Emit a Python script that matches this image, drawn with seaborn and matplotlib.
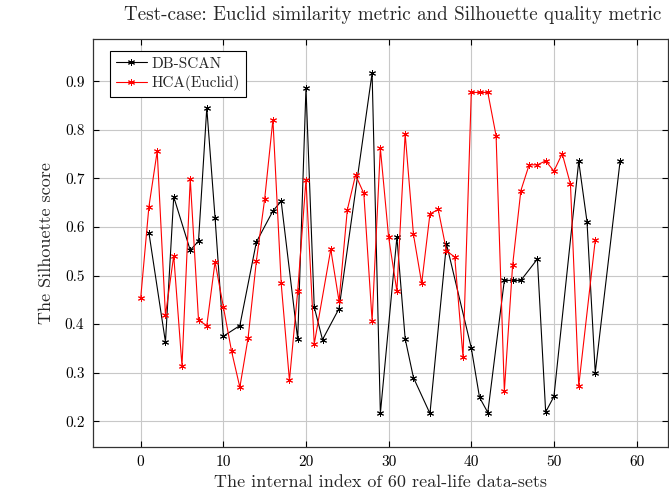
import matplotlib
matplotlib.use("Agg")
import matplotlib.pyplot as plt
import seaborn as sns
import pandas as pd

# DB-SCAN series
db_x = [1, 3, 4, 6, 7, 8, 9, 10, 12, 14, 16, 17, 19, 20, 21, 22, 24, 28, 29, 31,
        32, 33, 35, 37, 40, 41, 42, 44, 45, 46, 48, 49, 50, 53, 54, 55, 58]
db_y = [0.588, 0.363, 0.662, 0.552, 0.571, 0.845, 0.619, 0.375, 0.397, 0.569,
        0.633, 0.653, 0.369, 0.886, 0.435, 0.368, 0.432, 0.917, 0.216, 0.579,
        0.370, 0.290, 0.216, 0.565, 0.351, 0.249, 0.218, 0.490, 0.490, 0.490,
        0.534, 0.219, 0.251, 0.735, 0.611, 0.300, 0.735]

# HCA(Euclid) series
hca_x = [0, 1, 2, 3, 4, 5, 6, 7, 8, 9, 10, 11, 12, 13, 14, 15, 16, 17, 18, 19,
         20, 21, 23, 24, 25, 26, 27, 28, 29, 30, 31, 32, 33, 34, 35, 36, 37, 38,
         39, 40, 41, 42, 43, 44, 45, 46, 47, 48, 49, 50, 51, 52, 53, 55]
hca_y = [0.453, 0.642, 0.756, 0.418, 0.541, 0.314, 0.699, 0.408, 0.397, 0.528,
         0.436, 0.344, 0.270, 0.372, 0.530, 0.657, 0.821, 0.484, 0.284, 0.468,
         0.697, 0.359, 0.554, 0.447, 0.635, 0.707, 0.669, 0.407, 0.762, 0.579,
         0.468, 0.792, 0.585, 0.484, 0.627, 0.636, 0.551, 0.538, 0.332, 0.877,
         0.877, 0.877, 0.788, 0.262, 0.521, 0.675, 0.728, 0.728, 0.736, 0.715,
         0.751, 0.688, 0.273, 0.573]

labels = ["DB-SCAN", "HCA(Euclid)"]
x_ticks = [0, 10, 20, 30, 40, 50, 60]
y_ticks = [0.2, 0.3, 0.4, 0.5, 0.6, 0.7, 0.8, 0.9]

sns.set_theme(style="white")
plt.rcParams["font.family"] = ["cmr10", "DejaVu Serif"]
plt.rcParams["axes.formatter.use_mathtext"] = True
plt.rcParams["mathtext.fontset"] = "cm"

df = pd.concat([
    pd.DataFrame({"x": db_x, "y": db_y, "method": labels[0]}),
    pd.DataFrame({"x": hca_x, "y": hca_y, "method": labels[1]}),
])

fig = plt.figure(figsize=(6.69, 4.98), dpi=100)
ax = fig.add_axes([0.1386, 0.1024, 0.8614 - 0.0015, 0.8183])

sns.lineplot(data=df, x="x", y="y", hue="method", palette=["black", "red"],
             marker=(6, 2, 0), markersize=5, markeredgewidth=0.7,
             linewidth=0.8, sort=False, estimator=None, ax=ax, legend=False)

lines = ax.get_lines()
for ln, c in zip(lines, ["black", "red"]):
    ln.set_markeredgecolor(c)

ax.set_xlim(-5.8, 63.8)
ax.set_ylim(0.147, 0.986)
ax.set_xticks(x_ticks)
ax.set_yticks(y_ticks)
ax.set_xticklabels([str(t) for t in x_ticks])
ax.set_yticklabels([f"{t:.1f}" for t in y_ticks])
ax.grid(True, color="#c8c8c8", linewidth=0.8)
ax.set_axisbelow(True)
ax.tick_params(direction="in", length=4, width=0.8, top=True, right=True,
               bottom=True, left=True, labelsize=11, colors="black", pad=6)
for s in ax.spines.values():
    s.set_color("#333333")
    s.set_linewidth(0.9)

ax.set_xlabel("The internal index of 60 real-life data-sets", fontsize=13)
ax.set_ylabel("The Silhouette score", fontsize=13, labelpad=8)
ax.set_title("Test-case: Euclid similarity metric and Silhouette quality metric",
             fontsize=13.7, x=0.522, pad=14)

leg = ax.legend(lines[:2], labels, loc="upper left", bbox_to_anchor=(0.030, 0.972),
                borderaxespad=0, fontsize=11, frameon=True, fancybox=False,
                edgecolor="black", framealpha=1, handlelength=2.0,
                handletextpad=0.3, borderpad=0.4, labelspacing=0.3)
leg.get_frame().set_linewidth(0.8)

fig.savefig("out.png", dpi=100)
